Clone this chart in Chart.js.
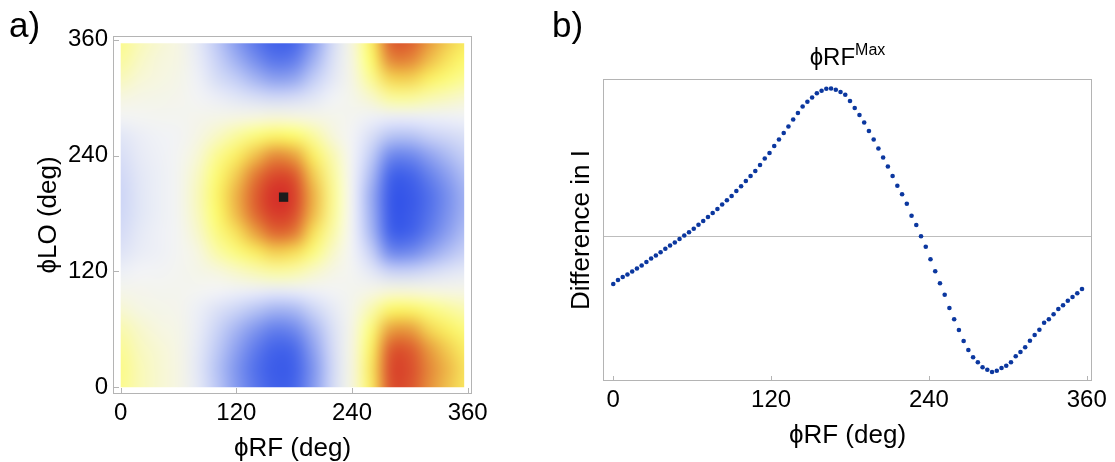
<!DOCTYPE html>
<html>
<head>
<meta charset="utf-8">
<script src="https://cdn.jsdelivr.net/npm/chart.js@4.4.1/dist/chart.umd.min.js"></script>
<style>
  body { margin: 0; background: #fff; width: 1115px; height: 462px; overflow: hidden; position: relative; font-family: 'Liberation Sans', Arial, sans-serif; }
  canvas { position: absolute; top: 0; }
  #mapCanvas { left: 0; }
  #diffCanvas { left: 560px; }
  .panel-label { position: absolute; font-size: 35px; line-height: 35px; color: #000; white-space: nowrap; }
  #titleB { position: absolute; left: 603px; width: 489px; top: 45px; text-align: center; font-size: 24px; line-height: 24px; white-space: nowrap; }
  #titleB sup { font-size: 16px; line-height: 0; vertical-align: 10px; }
</style>
</head>
<body>
<canvas id="mapCanvas" width="560" height="462"></canvas>
<canvas id="diffCanvas" width="555" height="462"></canvas>
<div class="panel-label" style="left:9px; top:7px;">a)</div>
<div class="panel-label" style="left:552px; top:7px;">b)</div>
<div id="titleB">ϕRF<sup>Max</sup></div>
<script>
const FONT = "'Liberation Sans', Arial, sans-serif";

// axis ticks (deg)
const phaseTicks = [0, 120, 240, 360];

// panel a: grid of the map, columns = phi RF, rows = phi LO (both deg)
const mapRF = [0, 20, 40, 60, 80, 100, 120, 140, 160, 180, 200, 220, 240, 260, 280, 300, 320, 340, 360];
const mapLO = [0, 20, 40, 60, 80, 100, 120, 140, 160, 180, 200, 220, 240, 260, 280, 300, 320, 340, 360];
const mapEdge = 356.4; // last sampled phase
const mapValues = [
  [0.31, 0.21, 0.15, 0.09, -0.07, -0.28, -0.48, -0.67, -0.82, -0.76, -0.48, -0.17, 0.12, 0.46, 0.86, 0.86, 0.70, 0.58, 0.47],
  [0.32, 0.21, 0.15, 0.09, -0.08, -0.30, -0.50, -0.70, -0.86, -0.80, -0.50, -0.18, 0.12, 0.48, 0.88, 0.88, 0.72, 0.60, 0.48],
  [0.29, 0.19, 0.14, 0.08, -0.07, -0.27, -0.45, -0.64, -0.78, -0.73, -0.45, -0.16, 0.11, 0.44, 0.82, 0.83, 0.67, 0.55, 0.44],
  [0.23, 0.16, 0.11, 0.07, -0.05, -0.21, -0.36, -0.50, -0.62, -0.57, -0.36, -0.13, 0.09, 0.36, 0.66, 0.67, 0.54, 0.44, 0.35],
  [0.15, 0.10, 0.07, 0.05, -0.03, -0.12, -0.21, -0.30, -0.37, -0.35, -0.21, -0.07, 0.06, 0.23, 0.42, 0.43, 0.35, 0.28, 0.22],
  [0.06, 0.05, 0.04, 0.04, 0.02, 0.00, -0.02, -0.04, -0.06, -0.05, -0.02, 0.01, 0.04, 0.08, 0.13, 0.13, 0.11, 0.09, 0.08],
  [-0.03, 0.00, 0.01, 0.03, 0.07, 0.12, 0.17, 0.22, 0.26, 0.24, 0.17, 0.09, 0.02, -0.08, -0.22, -0.23, -0.17, -0.11, -0.07],
  [-0.11, -0.05, -0.02, 0.02, 0.11, 0.24, 0.35, 0.46, 0.55, 0.52, 0.35, 0.17, 0.00, -0.24, -0.56, -0.57, -0.44, -0.32, -0.22],
  [-0.16, -0.07, -0.02, 0.02, 0.16, 0.34, 0.50, 0.66, 0.79, 0.75, 0.50, 0.24, 0.00, -0.35, -0.78, -0.80, -0.62, -0.45, -0.31],
  [-0.19, -0.09, -0.03, 0.03, 0.19, 0.40, 0.60, 0.79, 0.94, 0.88, 0.60, 0.29, 0.00, -0.39, -0.87, -0.89, -0.69, -0.51, -0.36],
  [-0.20, -0.09, -0.03, 0.03, 0.20, 0.42, 0.62, 0.82, 0.98, 0.92, 0.62, 0.30, 0.00, -0.40, -0.88, -0.90, -0.70, -0.52, -0.36],
  [-0.18, -0.08, -0.03, 0.03, 0.18, 0.38, 0.56, 0.75, 0.89, 0.84, 0.56, 0.27, 0.00, -0.34, -0.76, -0.78, -0.61, -0.45, -0.31],
  [-0.14, -0.06, -0.02, 0.02, 0.14, 0.30, 0.45, 0.59, 0.71, 0.66, 0.45, 0.22, 0.00, -0.26, -0.57, -0.58, -0.45, -0.33, -0.23],
  [-0.09, -0.04, -0.01, 0.01, 0.09, 0.18, 0.27, 0.36, 0.43, 0.40, 0.27, 0.13, 0.00, -0.14, -0.30, -0.31, -0.24, -0.18, -0.13],
  [0.01, 0.02, 0.03, 0.03, 0.05, 0.07, 0.09, 0.11, 0.13, 0.12, 0.09, 0.06, 0.03, -0.02, -0.04, -0.04, -0.03, -0.02, -0.01],
  [0.11, 0.08, 0.07, 0.05, 0.01, -0.04, -0.09, -0.14, -0.18, -0.16, -0.09, -0.01, 0.06, 0.16, 0.27, 0.28, 0.23, 0.19, 0.15],
  [0.20, 0.14, 0.11, 0.07, -0.02, -0.15, -0.26, -0.37, -0.46, -0.43, -0.26, -0.08, 0.09, 0.30, 0.54, 0.55, 0.45, 0.36, 0.29],
  [0.27, 0.18, 0.13, 0.09, -0.05, -0.23, -0.39, -0.55, -0.68, -0.64, -0.39, -0.13, 0.11, 0.40, 0.72, 0.73, 0.60, 0.49, 0.40],
  [0.31, 0.21, 0.15, 0.09, -0.07, -0.28, -0.48, -0.67, -0.82, -0.76, -0.48, -0.17, 0.12, 0.45, 0.82, 0.83, 0.68, 0.56, 0.46]
];
// marked maximum
const maxPoint = [{ x: 169, y: 197 }];

// panel b: difference in I vs phi RF
const rfPhase = [
  0, 3.6, 7.2, 10.8, 14.4, 18, 21.6, 25.2, 28.8, 32.4,
  36, 39.6, 43.2, 46.8, 50.4, 54, 57.6, 61.2, 64.8, 68.4,
  72, 75.6, 79.2, 82.8, 86.4, 90, 93.6, 97.2, 100.8, 104.4,
  108, 111.6, 115.2, 118.8, 122.4, 126, 129.6, 133.2, 136.8, 140.4,
  144, 147.6, 151.2, 154.8, 158.4, 162, 165.6, 169.2, 172.8, 176.4,
  180, 183.6, 187.2, 190.8, 194.4, 198, 201.6, 205.2, 208.8, 212.4,
  216, 219.6, 223.2, 226.8, 230.4, 234, 237.6, 241.2, 244.8, 248.4,
  252, 255.6, 259.2, 262.8, 266.4, 270, 273.6, 277.2, 280.8, 284.4,
  288, 291.6, 295.2, 298.8, 302.4, 306, 309.6, 313.2, 316.8, 320.4,
  324, 327.6, 331.2, 334.8, 338.4, 342, 345.6, 349.2, 352.8, 356.4
];
const diffI = [
  -48, -44, -41, -38.5, -35.5, -32.5, -29.5, -26, -22.5, -19.5,
  -16.3, -12.7, -9.5, -6.5, -3, 0.5, 3.7, 7.3, 11.3, 15,
  19, 23, 27, 31.5, 35.7, 40, 45, 49.7, 55, 60,
  65, 71, 77.5, 83, 90, 96.5, 103, 109.5, 116.5, 123,
  129.5, 134.3, 138.5, 142.7, 145.3, 147.3, 147.5, 146.3, 144, 141.3,
  135, 128, 121, 113.5, 105, 96.5, 87.5, 78.5, 69.5, 60,
  50.3, 41.7, 32.3, 20.3, 11, -0.3, -10.7, -23.3, -35.3, -47.3,
  -58.7, -72, -83.3, -94, -105, -114, -121.3, -126.3, -131.3, -133.7,
  -136, -134.7, -132, -129.7, -126.3, -120.3, -116, -111.3, -104.7, -99,
  -93.7, -86.7, -83.3, -78.3, -73, -69.3, -64.7, -61, -57.3, -53
];

// colour scale of the map (value -> rgb)
const colorStops = [
  [-1.0, [46, 78, 232]],
  [-0.75, [70, 102, 234]],
  [-0.5, [128, 150, 238]],
  [-0.25, [196, 206, 246]],
  [0.0, [242, 243, 246]],
  [0.12, [246, 246, 222]],
  [0.25, [250, 250, 165]],
  [0.4, [252, 250, 108]],
  [0.52, [246, 220, 88]],
  [0.65, [234, 165, 64]],
  [0.8, [222, 100, 48]],
  [1.0, [212, 40, 40]]
];

function colorFor(v) {
  if (v <= colorStops[0][0]) return colorStops[0][1];
  for (let i = 1; i < colorStops.length; i++) {
    const [v1, c1] = colorStops[i];
    if (v <= v1) {
      const [v0, c0] = colorStops[i - 1];
      const t = (v - v0) / (v1 - v0);
      return c0.map((c, k) => Math.round(c + (c1[k] - c) * t));
    }
  }
  return colorStops[colorStops.length - 1][1];
}

// draws the map grid under the datasets, smoothed by the canvas
const heatmapPlugin = {
  id: "heatmap",
  beforeDatasetsDraw(chart) {
    const { ctx, scales: { x, y } } = chart;
    const nx = mapRF.length, ny = mapLO.length;
    const off = document.createElement("canvas");
    off.width = nx;
    off.height = ny;
    const octx = off.getContext("2d");
    const img = octx.createImageData(nx, ny);
    for (let j = 0; j < ny; j++) {
      for (let i = 0; i < nx; i++) {
        const c = colorFor(mapValues[j][i]);
        const k = ((ny - 1 - j) * nx + i) * 4;
        img.data[k] = c[0];
        img.data[k + 1] = c[1];
        img.data[k + 2] = c[2];
        img.data[k + 3] = 255;
      }
    }
    octx.putImageData(img, 0, 0);

    const dx = mapRF[1] - mapRF[0];
    const dy = mapLO[1] - mapLO[0];
    const left = x.getPixelForValue(mapRF[0] - dx / 2);
    const right = x.getPixelForValue(mapRF[nx - 1] + dx / 2);
    const top = y.getPixelForValue(mapLO[ny - 1] + dy / 2);
    const bottom = y.getPixelForValue(mapLO[0] - dy / 2);

    ctx.save();
    ctx.beginPath();
    const cx0 = x.getPixelForValue(0), cx1 = x.getPixelForValue(mapEdge);
    const cy0 = y.getPixelForValue(mapEdge), cy1 = y.getPixelForValue(0);
    ctx.rect(cx0, cy0, cx1 - cx0, cy1 - cy0);
    ctx.clip();
    ctx.imageSmoothingEnabled = true;
    ctx.imageSmoothingQuality = "high";
    ctx.drawImage(off, left, top, right - left, bottom - top);
    ctx.restore();
  }
};

// gray frame with short inward ticks
const framePlugin = {
  id: "frame",
  afterDraw(chart, args, opts) {
    const { ctx, chartArea: a, scales } = chart;
    ctx.save();
    ctx.strokeStyle = opts.color;
    ctx.lineWidth = 1;
    ctx.strokeRect(a.left + 0.5, a.top + 0.5, a.right - a.left - 1, a.bottom - a.top - 1);
    ctx.beginPath();
    if (opts.xTicks) {
      scales.x.ticks.forEach(t => {
        const px = Math.round(scales.x.getPixelForValue(t.value)) + 0.5;
        ctx.moveTo(px, a.bottom - 1);
        ctx.lineTo(px, a.bottom - 1 - opts.length);
      });
    }
    if (opts.yTicks) {
      scales.y.ticks.forEach(t => {
        const py = Math.round(scales.y.getPixelForValue(t.value)) + 0.5;
        ctx.moveTo(a.left + 1, py);
        ctx.lineTo(a.left + 1 + opts.length, py);
      });
    }
    ctx.stroke();
    ctx.restore();
  }
};

const tickFont = { family: FONT, size: 24 };
const titleFont = { family: FONT, size: 26, lineHeight: 1 };
const setPhaseTicks = s => { s.ticks = phaseTicks.map(v => ({ value: v })); };

// panel a
new Chart(document.getElementById("mapCanvas"), {
  type: "scatter",
  data: {
    datasets: [{
      data: maxPoint,
      pointStyle: "rect",
      pointRadius: 6.6,
      backgroundColor: "#1c1c1c",
      borderWidth: 0
    }]
  },
  options: {
    responsive: false,
    animation: false,
    events: [],
    layout: { padding: { top: 36, right: 88, left: 0, bottom: 0 } },
    plugins: {
      legend: { display: false },
      tooltip: { enabled: false },
      frame: { color: "#b4b4b4", length: 5, xTicks: true, yTicks: true }
    },
    scales: {
      x: {
        type: "linear",
        min: -8,
        max: 364.5,
        afterBuildTicks: setPhaseTicks,
        afterFit: s => { s.height = 68; },
        grid: { display: false, drawTicks: false },
        border: { display: false },
        ticks: { font: tickFont, color: "#000", padding: 5, maxRotation: 0, autoSkip: false },
        title: { display: true, text: "ϕRF (deg)", font: titleFont, color: "#000", padding: { top: 0, bottom: 0 } }
      },
      y: {
        type: "linear",
        min: -7,
        max: 364,
        afterBuildTicks: setPhaseTicks,
        afterFit: s => { s.width = 113; },
        grid: { display: false, drawTicks: false },
        border: { display: false },
        ticks: { font: tickFont, color: "#000", padding: 5, autoSkip: false },
        title: { display: true, text: "ϕLO (deg)", font: titleFont, color: "#000", padding: { top: 36, bottom: 0 } }
      }
    }
  },
  plugins: [heatmapPlugin, framePlugin]
});

// panel b
new Chart(document.getElementById("diffCanvas"), {
  type: "scatter",
  data: {
    datasets: [{
      data: rfPhase.map((x, i) => ({ x: x, y: diffI[i] })),
      pointRadius: 2.3,
      backgroundColor: "#0b379f",
      borderWidth: 0
    }]
  },
  options: {
    responsive: false,
    animation: false,
    events: [],
    layout: { padding: { top: 79, right: 23, left: 0, bottom: 0 } },
    plugins: {
      legend: { display: false },
      tooltip: { enabled: false },
      frame: { color: "#b4b4b4", length: 4, xTicks: true, yTicks: false }
    },
    scales: {
      x: {
        type: "linear",
        min: -7.8,
        max: 364,
        afterBuildTicks: setPhaseTicks,
        afterFit: s => { s.height = 81; },
        grid: { display: false, drawTicks: false },
        border: { display: false },
        ticks: { font: tickFont, color: "#000", padding: 5, maxRotation: 0, autoSkip: false },
        title: { display: true, text: "ϕRF (deg)", font: titleFont, color: "#000", padding: { top: 0, bottom: 13 } }
      },
      y: {
        type: "linear",
        min: -145,
        max: 157,
        afterBuildTicks: s => { s.ticks = [{ value: 0 }]; },
        afterFit: s => { s.width = 43; },
        grid: { display: true, drawTicks: false, color: "#bdbdbd", lineWidth: 1 },
        border: { display: false },
        ticks: { display: false },
        title: { display: true, text: "Difference in I", font: titleFont, color: "#000", padding: { top: 9, bottom: 0 } }
      }
    }
  },
  plugins: [framePlugin]
});
</script>
</body>
</html>
